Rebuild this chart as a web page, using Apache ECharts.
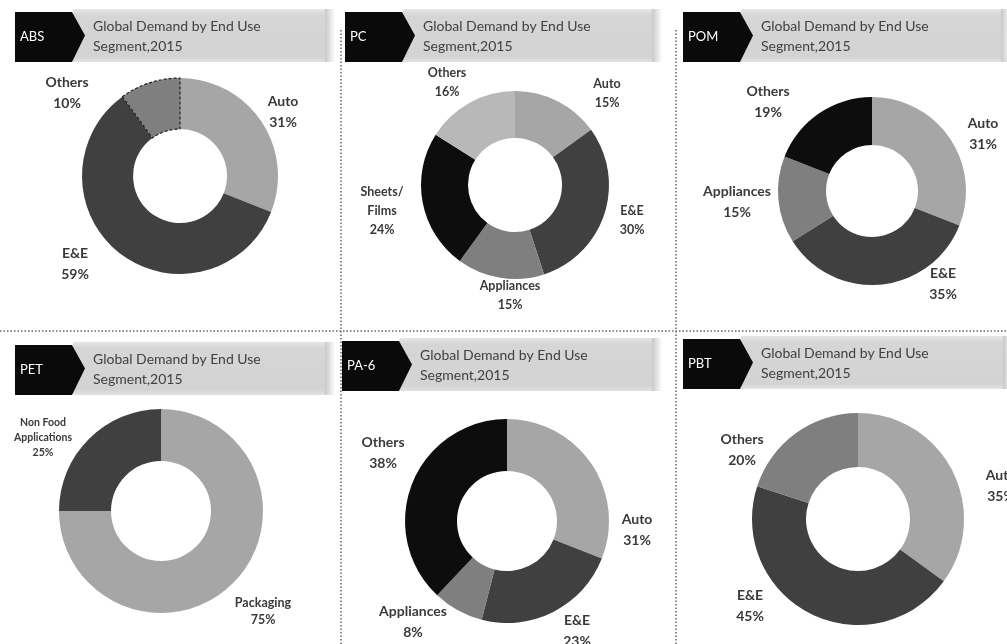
<!DOCTYPE html>
<html>
<head>
<meta charset="utf-8">
<script src="https://cdn.jsdelivr.net/npm/echarts@6/dist/echarts.min.js"></script>
<style>
  html, body { margin: 0; padding: 0; background: #fff; }
  #main { width: 1007px; height: 644px; }
</style>
</head>
<body>
<div id="main"></div>
<script>
// data for each panel (values in %)
const absNames = ['Auto', 'E&E', 'Others'];
const absValues = [31, 59, 10];
const pcNames = ['Auto', 'E&E', 'Appliances', 'Sheets/\nFilms', 'Others'];
const pcValues = [15, 30, 15, 24, 16];
const pomNames = ['Auto', 'E&E', 'Appliances', 'Others'];
const pomValues = [31, 35, 15, 19];
const petNames = ['Packaging', 'Non Food\nApplications'];
const petValues = [75, 25];
const pa6Names = ['Auto', 'E&E', 'Appliances', 'Others'];
const pa6Values = [31, 23, 8, 38];
const pbtNames = ['Auto', 'E&E', 'Others'];
const pbtValues = [35, 45, 20];

const headerTitle = 'Global Demand by End Use\nSegment,2015';

const LIGHT = '#a6a6a6', DARK = '#404040', MID = '#7f7f7f', BLACK = '#0d0d0d';

// layout of each panel: pie centre, radius, header box, label centres
const panels = [
  { tag: 'ABS', names: absNames, values: absValues, colors: [LIGHT, DARK, MID],
    center: [180, 176], radius: [47, 98], hx: 15, hy: 9, hw: 310, font: 14, lh: 21,
    labels: [[283, 112], [75, 264], [67, 93]] },
  { tag: 'PC', names: pcNames, values: pcValues, colors: [LIGHT, DARK, MID, BLACK, '#b8b8b8'],
    center: [515, 185], radius: [47, 94], hx: 345, hy: 9, hw: 307, font: 12.5, lh: 19,
    labels: [[607, 93], [632, 220], [510, 295], [382, 211], [447, 82]] },
  { tag: 'POM', names: pomNames, values: pomValues, colors: [LIGHT, DARK, MID, BLACK],
    center: [872, 191], radius: [46, 94], hx: 683, hy: 9, hw: 318, font: 14, lh: 21,
    labels: [[983, 134], [943, 284], [737, 202], [768, 102]] },
  { tag: 'PET', names: petNames, values: petValues, colors: [LIGHT, DARK],
    center: [161, 511], radius: [50, 102], hx: 15, hy: 342, hw: 310, font: 12.5, lh: 17,
    labels: [[263, 611], [43, 438]] },
  { tag: 'PA-6', names: pa6Names, values: pa6Values, colors: [LIGHT, DARK, MID, BLACK],
    center: [507, 521], radius: [50, 102], hx: 342, hy: 338, hw: 310, font: 14, lh: 21,
    labels: [[637, 530], [577, 631], [413, 622], [383, 453]] },
  { tag: 'PBT', names: pbtNames, values: pbtValues, colors: [LIGHT, DARK, MID],
    center: [858, 519], radius: [52, 106], hx: 683, hy: 336, hw: 320, font: 14, lh: 21,
    labels: [[1001, 486], [750, 606], [742, 450]] }
];

const series = panels.map((p, si) => ({
  type: 'pie',
  center: p.center,
  radius: p.radius,
  startAngle: 90,
  clockwise: true,
  silent: true,
  animation: false,
  data: p.names.map((n, i) => {
    const item = { name: n, value: p.values[i], itemStyle: { color: p.colors[i] } };
    if (p.tag === 'ABS' && n === 'Others') {
      item.itemStyle.borderColor = '#222';
      item.itemStyle.borderWidth = 1.2;
      item.itemStyle.borderType = [3, 2];
    }
    if (p.tag === 'PET' && i === 1) {
      item.label = { fontSize: 10.5, lineHeight: 15 };
    }
    return item;
  }),
  label: {
    show: true,
    position: 'outside',
    formatter: '{b}\n{c}%',
    fontFamily: 'Lato',
    fontWeight: 'bold',
    fontSize: p.font,
    lineHeight: p.lh,
    color: '#3a3a3a',
    align: 'center',
    overflow: 'none',
    width: 120
  },
  labelLine: { show: false },
  labelLayout: function (params) {
    const pos = panels[si].labels[params.dataIndex];
    return { x: pos[0], y: pos[1], align: 'center', verticalAlign: 'middle' };
  }
}));

// header boxes
const graphic = [];
panels.forEach(p => {
  const x = p.hx, y = p.hy, h = 53;
  graphic.push({
    type: 'rect', shape: { x: x + 58, y: y, width: p.hw - 58, height: h },
    style: {
      fill: new echarts.graphic.LinearGradient(0, 0, 0, 1, [
        { offset: 0, color: '#e6e6e6' }, { offset: 0.12, color: '#d6d6d6' },
        { offset: 0.9, color: '#d3d3d3' }, { offset: 1, color: '#e2e2e2' }
      ])
    }, silent: true
  });
  graphic.push({
    type: 'rect', shape: { x: x + p.hw, y: y, width: 10, height: h },
    style: { fill: new echarts.graphic.LinearGradient(0, 0, 1, 0, [
      { offset: 0, color: '#c8c8c8' }, { offset: 1, color: '#ffffff' }]) }, silent: true
  });
  graphic.push({
    type: 'polygon',
    shape: { points: [[x, y + 3], [x + 57, y + 3], [x + 70, y + h / 2], [x + 57, y + h], [x, y + h]] },
    style: { fill: '#0a0a0a' }, silent: true
  });
  graphic.push({
    type: 'text', x: x + 5, y: y + 28,
    style: { text: p.tag, fill: '#fff', font: '13px Lato', verticalAlign: 'middle' }, silent: true
  });
  graphic.push({
    type: 'text', x: x + 78, y: y + 7,
    style: { text: headerTitle, fill: '#404040', font: '14px Lato', lineHeight: 20, verticalAlign: 'top' },
    silent: true
  });
});

// dotted separators
const dotted = { stroke: '#666', lineWidth: 1.5, lineDash: [1.5, 2] };
graphic.push({ type: 'line', shape: { x1: 0, y1: 331, x2: 1007, y2: 331 }, style: dotted, silent: true });
graphic.push({ type: 'line', shape: { x1: 341, y1: 30, x2: 341, y2: 644 }, style: dotted, silent: true });
graphic.push({ type: 'line', shape: { x1: 676, y1: 30, x2: 676, y2: 644 }, style: dotted, silent: true });

const chart = echarts.init(document.getElementById('main'));
chart.setOption({
  backgroundColor: '#ffffff',
  animation: false,
  series: series,
  graphic: graphic
});
</script>
</body>
</html>
